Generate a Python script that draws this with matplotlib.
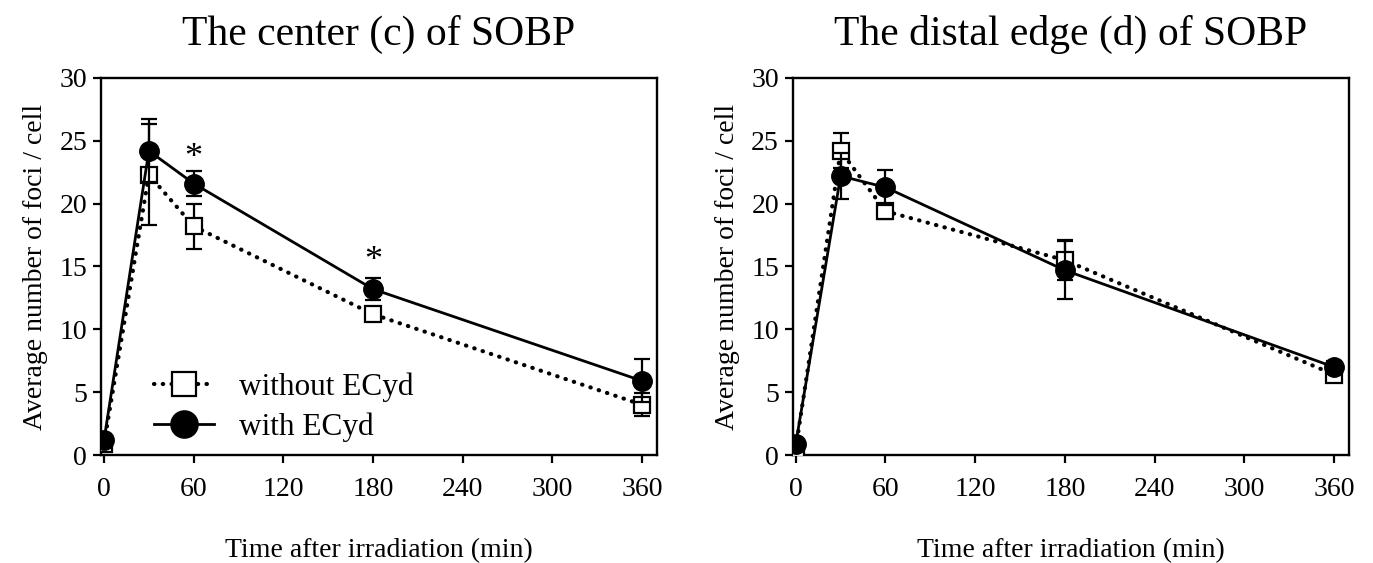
import numpy as np
import matplotlib
matplotlib.use('Agg')
import matplotlib.pyplot as plt

plt.rcParams['font.family'] = ['Liberation Serif', 'DejaVu Serif']

# time points (min)
times = [0, 30, 60, 180, 360]

# center (c) of SOBP
center_without = [0.9, 22.3, 18.2, 11.2, 4.0]
center_without_err = [0.6, 4.0, 1.8, 0.5, 0.9]
center_with = [1.2, 24.2, 21.6, 13.2, 5.9]
center_with_err = [0.5, 2.5, 1.0, 0.9, 1.7]

# distal edge (d) of SOBP
distal_without = [0.5, 24.2, 19.4, 15.5, 6.4]
distal_without_err = [0.3, 1.4, 0.6, 1.6, 0.4]
distal_with = [0.9, 22.2, 21.3, 14.7, 7.0]
distal_with_err = [0.3, 1.8, 1.4, 2.3, 0.5]

# significance marks
star_times = [60, 180]
star_y = [22.3, 14.1]

titles = ['The center (c) of SOBP', 'The distal edge (d) of SOBP']

fig = plt.figure(figsize=(13.73, 5.63), dpi=100)
ax1 = fig.add_axes([0.0736, 0.1918, 0.4049, 0.6697])
ax2 = fig.add_axes([0.5774, 0.1918, 0.4051, 0.6697])

dotted = (0, (0.1, 2.0))


def draw_panel(ax, y_wo, e_wo, y_w, e_w, title):
    ax.errorbar(times, y_wo, yerr=e_wo, color='black', linestyle=dotted, lw=3.0,
                dash_capstyle='round', marker='s', markersize=12,
                markerfacecolor='white', markeredgecolor='black', markeredgewidth=1.6,
                ecolor='black', elinewidth=1.6, capsize=6, capthick=1.6,
                label='without ECyd', zorder=3)
    ax.errorbar(times, y_w, yerr=e_w, color='black', linestyle='-', lw=2.0,
                marker='o', markersize=14, markerfacecolor='black',
                markeredgecolor='black', ecolor='black', elinewidth=1.6,
                capsize=6, capthick=1.6, label='with ECyd', zorder=4)
    ax.set_xlim(-2, 370)
    ax.set_ylim(0, 30)
    ax.set_xticks([0, 60, 120, 180, 240, 300, 360])
    ax.set_yticks([0, 5, 10, 15, 20, 25, 30])
    ax.tick_params(direction='out', length=6, width=1.6, labelsize=20, pad=4)
    ax.tick_params(axis='x', pad=10)
    for s in ax.spines.values():
        s.set_linewidth(1.7)
    ax.set_xlabel('Time after irradiation (min)', fontsize=20, labelpad=26)
    ax.set_ylabel('Average number of foci / cell', fontsize=20, labelpad=8)
    ax.set_title(title, fontsize=30, pad=24)


draw_panel(ax1, center_without, center_without_err, center_with, center_with_err, titles[0])
draw_panel(ax2, distal_without, distal_without_err, distal_with, distal_with_err, titles[1])

for t, y in zip(star_times, star_y):
    ax1.text(t, y, '*', fontsize=26, ha='center', va='bottom')

handles, labels = ax1.get_legend_handles_labels()
handles = [h[0] for h in handles]
ax1.legend(handles, labels, loc='lower left', bbox_to_anchor=(0.045, -0.04),
           frameon=False, fontsize=22.5, handlelength=1.9, handletextpad=0.8,
           labelspacing=0.35, markerscale=1.4)

fig.savefig('out.png', dpi=100)
